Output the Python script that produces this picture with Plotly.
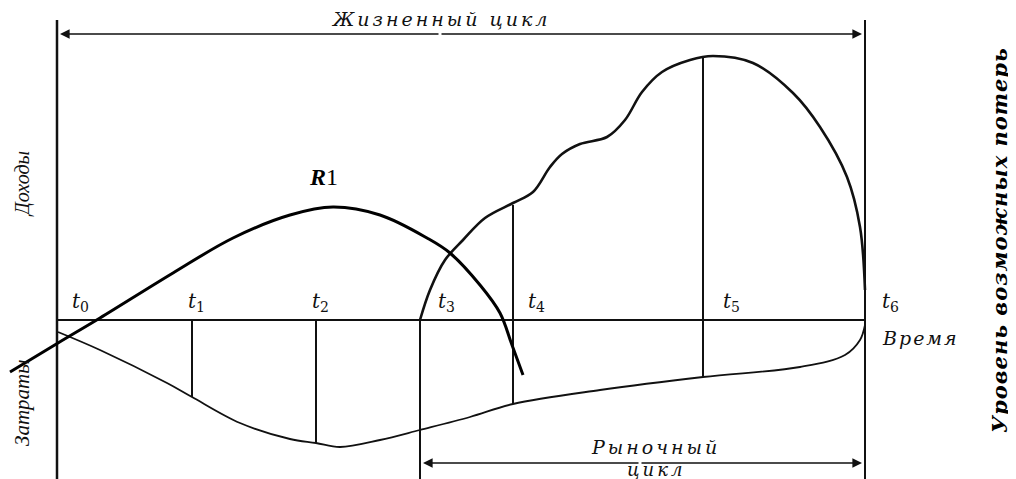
import plotly.graph_objects as go

# Coordinates: x in chart units (left edge 0 .. 1016), y relative to the time axis (up = income)
axis_left = 57
axis_right = 865
top_y = 300
bottom_y = -170

# Time marks
t_labels = ['0', '1', '2', '3', '4', '5', '6']
t_x = [58, 192, 316, 420, 513, 703, 865]
t_lab_x = [80, 196, 320, 446, 536, 731, 890]

# Cost curve (Затраты), below the time axis
cost_x = [58, 100, 167, 192, 240, 290, 316, 340, 380, 420, 470, 513, 600, 703, 800, 845, 860, 865]
cost_y = [-12, -30, -63, -77, -103, -119, -123, -127, -120, -110, -97, -84, -70, -57, -47, -35, -20, -5]

# Market revenue curve (t3 .. t6)
rev_x = [420, 430, 445, 463, 485, 513, 533, 550, 562, 580, 607, 625, 642, 662, 690, 713, 753, 793, 820, 847, 860, 865]
rev_y = [0, 30, 60, 80, 102, 117, 128, 153, 166, 176, 183, 200, 228, 248, 260, 264, 257, 227, 193, 143, 93, 30]

# Vertical lines at t-points: (x, y_top, y_bottom)
vl_x = [192, 316, 420, 513, 703]
vl_top = [0, 0, 0, 115, 262]
vl_bot = [-77, -123, -170, -84, -57]

# R1 curve
r1_x = [10, 58, 100, 173, 233, 290, 333, 380, 427, 450, 480, 500, 512, 523]
r1_y = [-52, -23, 2, 47, 82, 105, 113, 105, 82, 67, 35, 7, -25, -55]

fig = go.Figure()

black = '#111111'
ser = 'Liberation Serif'
wide = 'DejaVu Serif'


def spaced(s, px):
    return '<span style="letter-spacing:%spx">%s</span>' % (px, s)


# frame lines
fig.add_trace(go.Scatter(x=[axis_left, axis_left], y=[top_y, bottom_y], mode='lines',
                         line=dict(color=black, width=2.5), hoverinfo='skip'))
fig.add_trace(go.Scatter(x=[axis_right, axis_right], y=[top_y, bottom_y], mode='lines',
                         line=dict(color=black, width=2), hoverinfo='skip'))
fig.add_trace(go.Scatter(x=[axis_left, axis_right], y=[0, 0], mode='lines',
                         line=dict(color=black, width=2), hoverinfo='skip'))

for x, a, b in zip(vl_x, vl_top, vl_bot):
    fig.add_trace(go.Scatter(x=[x, x], y=[a, b], mode='lines',
                             line=dict(color=black, width=2), hoverinfo='skip'))

fig.add_trace(go.Scatter(x=cost_x, y=cost_y, mode='lines', line=dict(color=black, width=1.8, shape='spline'),
                         hoverinfo='skip'))
fig.add_trace(go.Scatter(x=rev_x, y=rev_y, mode='lines', line=dict(color=black, width=2.6, shape='spline'),
                         hoverinfo='skip'))
fig.add_trace(go.Scatter(x=r1_x, y=r1_y, mode='lines', line=dict(color='black', width=3, shape='spline'),
                         hoverinfo='skip'))

ann = []
# Life cycle arrow
for x0, x1 in [(axis_left + 3, 440), (axis_right - 3, 440)]:
    ann.append(dict(x=x0, y=286, ax=x1, ay=286, xref='x', yref='y', axref='x', ayref='y',
                    showarrow=True, arrowhead=2, arrowsize=1.2, arrowwidth=1.6, arrowcolor=black, text=''))
ann.append(dict(x=440, y=301, text='<i>' + spaced('Жизненный цикл', 3) + '</i>', showarrow=False,
                font=dict(family=wide, size=19, color=black)))
# Market cycle arrow
for x0, x1 in [(423, 640), (862, 640)]:
    ann.append(dict(x=x0, y=-143, ax=x1, ay=-143, xref='x', yref='y', axref='x', ayref='y',
                    showarrow=True, arrowhead=2, arrowsize=1.2, arrowwidth=1.6, arrowcolor=black, text=''))
ann.append(dict(x=655, y=-127, text='<i>' + spaced('Рыночный', 3) + '</i>', showarrow=False,
                font=dict(family=wide, size=19, color=black)))
ann.append(dict(x=656, y=-149, text='<i>' + spaced('цикл', 3) + '</i>', showarrow=False,
                font=dict(family=wide, size=18, color=black)))

# t labels
for lbl, x in zip(t_labels, t_lab_x):
    ann.append(dict(x=x, y=18, text='<i>t</i><sub>' + lbl + '</sub>', showarrow=False,
                    font=dict(family=wide, size=20, color=black)))
ann.append(dict(x=920, y=-18, text='<i>' + spaced('Время', 2) + '</i>', showarrow=False,
                font=dict(family=wide, size=19, color=black)))

ann.append(dict(x=323, y=143, text='<b><i>R</i></b>1', showarrow=False,
                font=dict(family=ser, size=24, color='black')))
ann.append(dict(x=22, y=136, text='<i>Доходы</i>', showarrow=False, textangle=-90,
                font=dict(family=ser, size=20, color=black)))
ann.append(dict(x=22, y=-83, text='<i>Затраты</i>', showarrow=False, textangle=-90,
                font=dict(family=ser, size=21, color=black)))
ann.append(dict(x=999, y=80, text='<b><i>' + spaced('Уровень возможных потерь', 1) + '</i></b>',
                showarrow=False, textangle=-90,
                font=dict(family=wide, size=21, color='black')))

# the page body adds an 8px offset, so shift the ranges to keep the drawing in place
fig.update_layout(
    width=1016, height=479,
    margin=dict(l=0, r=0, t=0, b=0),
    paper_bgcolor='white', plot_bgcolor='white',
    showlegend=False,
    xaxis=dict(range=[8, 1024], visible=False),
    yaxis=dict(range=[-167, 312], visible=False),
    annotations=ann,
)

fig.write_html("out.html")
